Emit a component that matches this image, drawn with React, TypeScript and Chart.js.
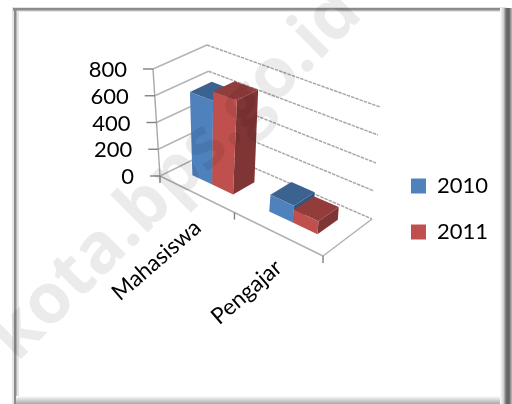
import React, { useEffect, useRef } from "react";
import { Chart, registerables } from "chart.js";

Chart.register(...registerables);

const categories = ["Mahasiswa", "Pengajar"];
const seriesNames = ["2010", "2011"];
const values2010 = [625, 120];
const values2011 = [695, 90];
const yMax = 800;
const yStep = 200;
const watermark = "kota.bps.go.id";

type Pt = [number, number];
const FONT = "Lato, 'Open Sans', sans-serif";

function homography(p0: Pt, p1: Pt, p2: Pt, p3: Pt) {
  const sx = p0[0] - p1[0] + p2[0] - p3[0];
  const sy = p0[1] - p1[1] + p2[1] - p3[1];
  const dx1 = p1[0] - p2[0];
  const dx2 = p3[0] - p2[0];
  const dy1 = p1[1] - p2[1];
  const dy2 = p3[1] - p2[1];
  const den = dx1 * dy2 - dx2 * dy1;
  const g = (sx * dy2 - dx2 * sy) / den;
  const h = (dx1 * sy - sx * dy1) / den;
  const a = p1[0] - p0[0] + g * p1[0];
  const b = p3[0] - p0[0] + h * p3[0];
  const d = p1[1] - p0[1] + g * p1[1];
  const e = p3[1] - p0[1] + h * p3[1];
  return (u: number, w: number): Pt => {
    const q = g * u + h * w + 1;
    return [(a * u + b * w + p0[0]) / q, (d * u + e * w + p0[1]) / q];
  };
}

// view of the 3D box: floor and ceiling quads (front-left, front-right, back-right, back-left)
const floor = homography([160, 176], [323, 256], [372, 219], [213, 150]);
const ceiling = homography([153, 69], [332, 134], [380, 107], [207, 45]);
const DEPTH_NEAR = 0.3;
const DEPTH_FAR = 0.71;

function project(u: number, v: number, w: number): Pt {
  const a = floor(u, w);
  const b = ceiling(u, w);
  return [a[0] + (b[0] - a[0]) * v, a[1] + (b[1] - a[1]) * v];
}

function shade(hex: string, k: number) {
  const n = parseInt(hex.slice(1), 16);
  const c = [(n >> 16) & 255, (n >> 8) & 255, n & 255].map((x) => Math.round(x * k));
  return `rgb(${c[0]},${c[1]},${c[2]})`;
}

const scene3d = {
  id: "scene3d",
  beforeDraw(chart: any) {
    const ctx = chart.ctx;
    ctx.save();
    ctx.fillStyle = "#ffffff";
    ctx.fillRect(0, 0, 512, 404);
    // frame: top, left, then the soft shadowed bottom and right
    ctx.fillStyle = "#e4e4e4";
    ctx.fillRect(13, 7, 494, 5);
    ctx.fillRect(12, 7, 7, 397);
    ctx.fillStyle = "#8c8c8c";
    ctx.fillRect(13, 8, 494, 2.5);
    ctx.fillRect(14, 8, 2.5, 396);
    const gb = ctx.createLinearGradient(0, 396, 0, 404);
    gb.addColorStop(0, "#ffffff");
    gb.addColorStop(1, "#a8a8a8");
    ctx.fillStyle = gb;
    ctx.fillRect(16, 396, 490, 8);
    const gr = ctx.createLinearGradient(500, 0, 512, 0);
    gr.addColorStop(0, "#ffffff");
    gr.addColorStop(0.3, "#d0d0d0");
    gr.addColorStop(0.5, "#707070");
    gr.addColorStop(0.75, "#606060");
    gr.addColorStop(1, "#c0c0c0");
    ctx.fillStyle = gr;
    ctx.fillRect(500, 8, 12, 396);
    ctx.restore();
  },
  beforeDatasetsDraw(chart: any) {
    const ctx = chart.ctx;
    const area = chart.chartArea;
    const yS = chart.scales.y;
    const xS = chart.scales.x;
    const normU = (px: number) => (px - area.left) / (area.right - area.left);
    const normV = (px: number) => (area.bottom - px) / (area.bottom - area.top);
    const line = (a: Pt, b: Pt, color = "#a8a8a8", lw = 1.5, dash: number[] = [3.5, 1]) => {
      ctx.strokeStyle = color;
      ctx.lineWidth = lw;
      ctx.setLineDash(dash);
      ctx.beginPath();
      ctx.moveTo(a[0], a[1]);
      ctx.lineTo(b[0], b[1]);
      ctx.stroke();
      ctx.setLineDash([]);
    };

    ctx.save();
    // walls and grid
    for (const t of yS.ticks) {
      const v = normV(yS.getPixelForValue(t.value));
      line(project(0, v, 0), project(0, v, 1), "#b4b4b4", 1.4, []);
      line(project(0, v, 1), project(1, v, 1));
    }
    line(project(0, 0, 0), project(0, 1, 0), "#a8a8a8", 1.4, []);
    line(project(0, 0, 0), project(1, 0, 0), "#b0b0b0", 1.4, []);
    line(project(1, 0, 0), project(1, 0, 1), "#b0b0b0", 1.4, []);
    // y ticks and labels
    ctx.font = `22px ${FONT}`;
    ctx.textAlign = "right";
    ctx.textBaseline = "middle";
    for (const t of yS.ticks) {
      const v = normV(yS.getPixelForValue(t.value));
      const p = project(0, v, 0);
      line([p[0] - 10, p[1]], p, "#808080", 1.4, []);
      ctx.fillStyle = "#000000";
      ctx.fillText(String(t.value), p[0] - 26, p[1] + 1);
    }
    // x ticks and labels
    [0, 0.5, 1].forEach((u) => {
      const p = project(u, 0, 0);
      line(p, [p[0], p[1] + 7], "#808080", 1.4, []);
    });
    xS.ticks.forEach((t: any, i: number) => {
      const p = project(normU(xS.getPixelForTick(i)), 0, 0);
      ctx.save();
      ctx.translate(p[0] + 2, p[1] + 31);
      ctx.rotate((-41 * Math.PI) / 180);
      ctx.font = `22.5px ${FONT}`;
      ctx.textAlign = "right";
      ctx.textBaseline = "middle";
      ctx.fillStyle = "#000000";
      ctx.fillText(xS.getLabelForValue(t.value), 0, 0);
      ctx.restore();
    });
    // bars, far to near, from the bar elements the scales positioned
    const poly = (pts: Pt[], color: string) => {
      ctx.fillStyle = color;
      ctx.beginPath();
      pts.forEach((p, i) => (i ? ctx.lineTo(p[0], p[1]) : ctx.moveTo(p[0], p[1])));
      ctx.closePath();
      ctx.fill();
    };
    categories.forEach((_, ci) => {
      chart.data.datasets.forEach((ds: any, di: number) => {
        const el = chart.getDatasetMeta(di).data[ci];
        const u0 = normU(el.x - el.width / 2);
        const u1 = normU(el.x + el.width / 2);
        const v = normV(el.y);
        const n = DEPTH_NEAR;
        const f = DEPTH_FAR;
        const base = ds.backgroundColor as string;
        poly([project(u1, 0, n), project(u1, 0, f), project(u1, v, f), project(u1, v, n)], shade(base, 0.66));
        poly([project(u0, v, n), project(u1, v, n), project(u1, v, f), project(u0, v, f)], shade(base, 0.76));
        poly([project(u0, 0, n), project(u1, 0, n), project(u1, v, n), project(u0, v, n)], base);
      });
    });
    ctx.restore();
    return false;
  },
  afterDraw(chart: any) {
    const ctx = chart.ctx;
    ctx.save();
    ctx.translate(17, 363);
    ctx.rotate((-45 * Math.PI) / 180);
    ctx.font = `bold 70px 'Open Sans', sans-serif`;
    ctx.textAlign = "left";
    ctx.textBaseline = "alphabetic";
    ctx.fillStyle = "rgba(0,0,0,0.08)";
    ctx.fillText(watermark, 0, 0);
    ctx.restore();
  },
};

export default function App() {
  const ref = useRef<HTMLCanvasElement>(null);
  useEffect(() => {
    const chart = new Chart(ref.current!, {
      type: "bar",
      data: {
        labels: categories,
        datasets: [
          { label: seriesNames[0], data: values2010, backgroundColor: "#4F81BD" },
          { label: seriesNames[1], data: values2011, backgroundColor: "#C0504D" },
        ],
      },
      options: {
        responsive: false,
        animation: false,
        devicePixelRatio: 1,
        layout: { padding: { top: 14, right: 14, left: 0, bottom: 0 } },
        datasets: { bar: { categoryPercentage: 0.55, barPercentage: 1 } },
        plugins: {
          tooltip: { enabled: false },
          legend: {
            position: "right",
            labels: {
              boxWidth: 15,
              boxHeight: 15,
              padding: 24,
              color: "#000000",
              font: { family: FONT, size: 22 },
            },
          },
        },
        scales: {
          x: { grid: { display: false }, border: { display: false }, ticks: { display: false } },
          y: {
            min: 0,
            max: yMax,
            grid: { display: false },
            border: { display: false },
            ticks: { display: false, stepSize: yStep },
          },
        },
      },
      plugins: [scene3d],
    } as any);
    return () => chart.destroy();
  }, []);
  return (
    <div style={{ position: "absolute", left: 0, top: 0, width: 512, height: 404, overflow: "hidden" }}>
      <canvas ref={ref} width={512} height={404} style={{ display: "block", filter: "blur(0.6px)" }} />
    </div>
  );
}
